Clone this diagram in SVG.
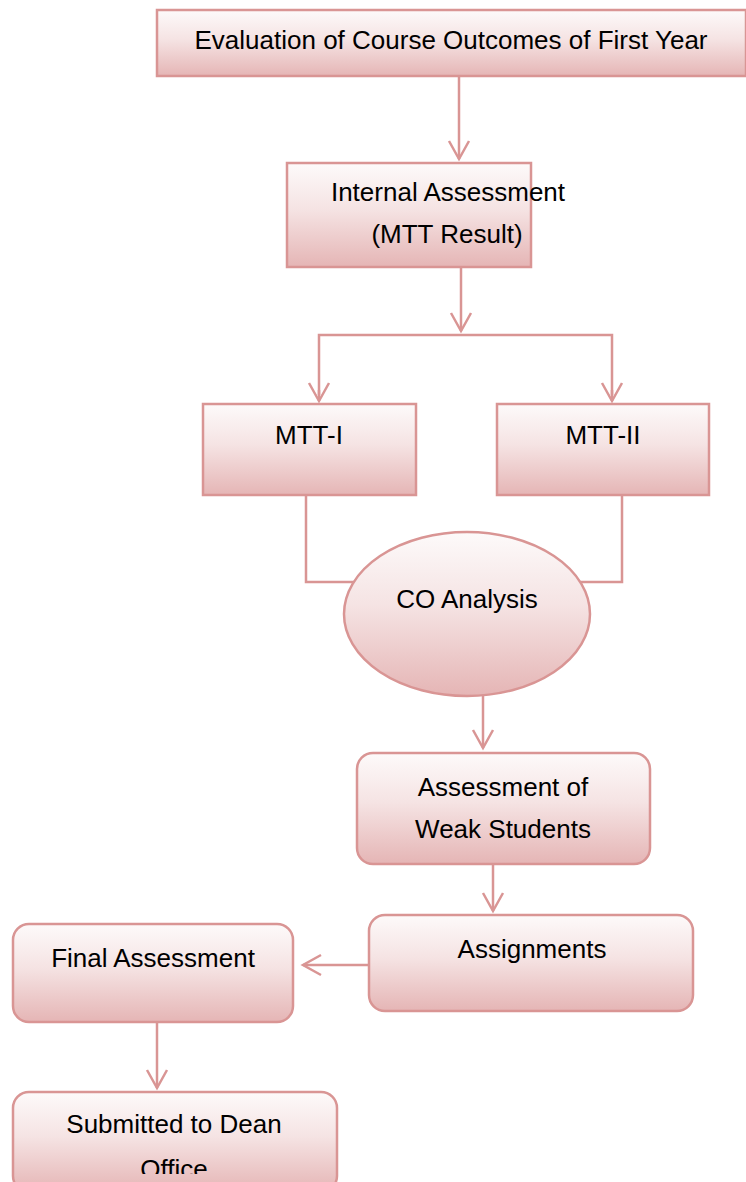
<svg xmlns="http://www.w3.org/2000/svg" width="746" height="1182" viewBox="0 0 746 1182">
<defs>
<linearGradient id="g" x1="0" y1="0" x2="0" y2="1">
<stop offset="0" stop-color="#fdfafa"/>
<stop offset="0.45" stop-color="#f5e3e3"/>
<stop offset="1" stop-color="#e5b5b5"/>
</linearGradient>
<marker id="arr" markerWidth="24" markerHeight="24" refX="20" refY="12" orient="auto" markerUnits="userSpaceOnUse">
<polyline points="2,2 20,12 2,22" fill="none" stroke="#d99594" stroke-width="2.5"/>
</marker>
<clipPath id="clipOffice"><rect x="0" y="0" width="746" height="1174"/></clipPath>
</defs>
<style>
.box{fill:url(#g);stroke:#d99594;stroke-width:2.5}
.t{font-family:"Liberation Sans",Arial,sans-serif;font-size:26px;fill:#000;text-anchor:middle}
.c{fill:none;stroke:#d99594;stroke-width:2.5}
</style>
<g id="connectors">
<line class="c" x1="459" y1="76" x2="459" y2="159" marker-end="url(#arr)"/>
<line class="c" x1="461" y1="267" x2="461" y2="331" marker-end="url(#arr)"/>
<polyline class="c" points="319,395 319,335 612,335 612,395"/>
<line class="c" x1="319" y1="390" x2="319" y2="401" marker-end="url(#arr)"/>
<line class="c" x1="612" y1="390" x2="612" y2="401" marker-end="url(#arr)"/>
<polyline class="c" points="306,495 306,582 356,582"/>
<polyline class="c" points="622,495 622,582 578,582"/>
<line class="c" x1="483" y1="696" x2="483" y2="748" marker-end="url(#arr)"/>
<line class="c" x1="493" y1="864" x2="493" y2="911" marker-end="url(#arr)"/>
<line class="c" x1="369" y1="965" x2="303" y2="965" marker-end="url(#arr)"/>
<line class="c" x1="157" y1="1022" x2="157" y2="1088" marker-end="url(#arr)"/>
</g>
<g id="n1">
<rect class="box" x="157" y="10" width="589" height="66"/>
<text class="t" x="451" y="49">Evaluation of Course Outcomes of First Year</text>
</g>
<g id="n2">
<rect class="box" x="287" y="163" width="244" height="104"/>
<text class="t" x="448" y="201">Internal Assessment</text>
<text class="t" x="447" y="243">(MTT Result)</text>
</g>
<g id="n3">
<rect class="box" x="203" y="404" width="213" height="91"/>
<text class="t" x="309" y="444">MTT-I</text>
</g>
<g id="n4">
<rect class="box" x="497" y="404" width="212" height="91"/>
<text class="t" x="603" y="444">MTT-II</text>
</g>
<g id="n5">
<ellipse class="box" cx="467" cy="614" rx="123" ry="82"/>
<text class="t" x="467" y="608">CO Analysis</text>
</g>
<g id="n6">
<rect class="box" x="357" y="753" width="293" height="111" rx="16"/>
<text class="t" x="503" y="796">Assessment of</text>
<text class="t" x="503" y="838">Weak Students</text>
</g>
<g id="n7">
<rect class="box" x="369" y="915" width="324" height="96" rx="16"/>
<text class="t" x="532" y="958">Assignments</text>
</g>
<g id="n8">
<rect class="box" x="13" y="924" width="280" height="98" rx="16"/>
<text class="t" x="153" y="967">Final Assessment</text>
</g>
<g id="n9">
<rect class="box" x="13" y="1092" width="324" height="100" rx="16"/>
<text class="t" x="174" y="1133">Submitted to Dean</text>
<text class="t" x="174" y="1178" clip-path="url(#clipOffice)">Office</text>
</g>
</svg>
